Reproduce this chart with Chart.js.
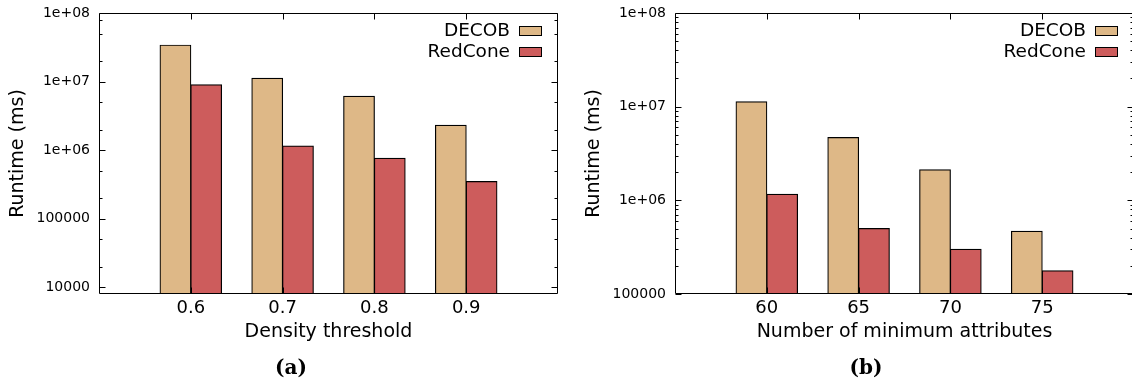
<!DOCTYPE html>
<html><head><meta charset="utf-8">
<script src="https://cdn.jsdelivr.net/npm/chart.js@4.4.1/dist/chart.umd.min.js"></script>
<style>
html,body{margin:0;padding:0;background:#fff;width:1132px;height:381px;overflow:hidden;position:relative;}
.panel{position:absolute;top:0;height:381px;}
#pa{left:0;width:566px;}
#pb{left:566px;width:570px;}
.cap{position:absolute;top:356px;font-family:"DejaVu Serif",serif;font-weight:bold;font-size:20px;line-height:22px;transform:translateX(-50%);color:#000;white-space:nowrap;}
</style></head><body>
<div class="panel" id="pa"><canvas id="ca" width="566" height="381"></canvas></div>
<div class="panel" id="pb"><canvas id="cb" width="570" height="381"></canvas></div>
<div class="cap" style="left:291px">(a)</div>
<div class="cap" style="left:866px">(b)</div>
<script>
// ---- data ----
const seriesNames = ['DECOB', 'RedCone'];
const seriesColors = ['#deb887', '#cd5c5c'];

const categoriesA = ['0.6', '0.7', '0.8', '0.9'];
const decobA = [3.4e7, 1.12e7, 6.1e6, 2.3e6];
const redconeA = [9.0e6, 1.15e6, 7.6e5, 3.5e5];

const categoriesB = ['60', '65', '70', '75'];
const decobB = [1.13e7, 4.68e6, 2.12e6, 4.68e5];
const redconeB = [1.16e6, 5.0e5, 3.0e5, 1.77e5];

const yTickValuesA = [1e4, 1e5, 1e6, 1e7, 1e8];
const yTickLabelsA = ['10000', '100000', '1e+06', '1e+07', '1e+08'];
const yTickValuesB = [1e5, 1e6, 1e7, 1e8];
const yTickLabelsB = ['100000', '1e+06', '1e+07', '1e+08'];

const yMinorA = [2e4, 5e4, 2e5, 5e5, 2e6, 5e6, 2e7, 5e7, 8e7];
const minorMultB = [2, 3, 4, 5, 6, 7, 8, 9];
const yMinorB = [];
[1e5, 1e6, 1e7].forEach(d => minorMultB.forEach(m => yMinorB.push(m * d)));

const FONT = '"DejaVu Sans", "Noto Sans", sans-serif';
Chart.defaults.font.family = FONT;
Chart.defaults.color = '#000';

const framePlugin = {
  id: 'frame',
  afterDatasetsDraw(chart, args, opts) {
    const ctx = chart.ctx;
    const {left, right, top, bottom} = chart.chartArea;
    const xs = chart.scales.x, ys = chart.scales.y;
    ctx.save();
    ctx.strokeStyle = '#000';
    ctx.lineWidth = 1;
    ctx.beginPath();
    const L = Math.round(left) + 0.5, R = Math.round(right) - 0.5;
    const T = Math.round(top) + 0.5, B = Math.round(bottom) - 0.5;
    ctx.rect(L, T, R - L, B - T);
    opts.major.forEach(v => {
      const py = Math.round(ys.getPixelForValue(v)) + 0.5;
      ctx.moveTo(L, py); ctx.lineTo(L + 6, py);
      ctx.moveTo(R, py); ctx.lineTo(R - 6, py);
    });
    opts.minor.forEach(v => {
      const py = Math.round(ys.getPixelForValue(v)) + 0.5;
      ctx.moveTo(L, py); ctx.lineTo(L + 3, py);
      ctx.moveTo(R, py); ctx.lineTo(R - 3, py);
    });
    for (let i = 1; i <= opts.nCats; i++) {
      const px = Math.round(xs.getPixelForValue(i)) + 0.5;
      ctx.moveTo(px, T); ctx.lineTo(px, T + 6);
      ctx.moveTo(px, B); ctx.lineTo(px, B - 6);
    }
    ctx.stroke();
    // legend inside top-right
    ctx.font = '18.5px ' + FONT;
    ctx.textAlign = 'right';
    ctx.textBaseline = 'middle';
    chart.data.datasets.forEach((ds, i) => {
      const cy = Math.round(top + 18 + i * 21);
      const bx = Math.round(right - 16 - 23);
      ctx.fillStyle = ds.backgroundColor;
      ctx.fillRect(bx, cy - 5, 23, 10);
      ctx.strokeStyle = '#000';
      ctx.strokeRect(bx + 0.5, cy - 5 + 0.5, 22, 9);
      ctx.fillStyle = '#000';
      ctx.fillText(ds.label, bx - 9, cy);
    });
    ctx.restore();
  }
};

function makeChart(id, cats, d1, d2, yMin, yVals, yLabels, yMinor, xTitle, yAxisWidth, padRight, yTitlePad) {
  return new Chart(document.getElementById(id), {
    type: 'bar',
    data: {
      labels: ['', ...cats, ''],
      datasets: [
        {label: seriesNames[0], data: [null, ...d1, null], backgroundColor: seriesColors[0],
         borderColor: '#000', borderWidth: 1.2, inflateAmount: 0.5, categoryPercentage: 0.67, barPercentage: 1},
        {label: seriesNames[1], data: [null, ...d2, null], backgroundColor: seriesColors[1],
         borderColor: '#000', borderWidth: 1.2, inflateAmount: 0.5, categoryPercentage: 0.67, barPercentage: 1}
      ]
    },
    options: {
      responsive: false, animation: false, devicePixelRatio: 1,
      layout: {padding: {top: 13, right: padRight, left: 0, bottom: 0}},
      plugins: {
        legend: {display: false}, tooltip: {enabled: false},
        frame: {major: yVals, minor: yMinor, nCats: cats.length}
      },
      scales: {
        x: {
          type: 'category', offset: false,
          grid: {display: false, drawTicks: false}, border: {display: false},
          ticks: {autoSkip: false, maxRotation: 0, padding: 4, color: '#000', font: {size: 18, lineHeight: 1.2}},
          title: {display: true, text: xTitle, color: '#000', font: {size: 19, lineHeight: 1.2}, padding: {top: 0, bottom: 38}},
          afterFit(s) { s.height = 87; s.paddingLeft = 0; s.paddingRight = 0; }
        },
        y: {
          type: 'logarithmic', min: yMin, max: 1e8,
          grid: {display: false, drawTicks: false}, border: {display: false},
          afterBuildTicks(s) { s.ticks = yVals.map(v => ({value: v, major: false})); },
          ticks: {padding: 9, color: '#000', font: {size: 14, lineHeight: 1.2},
                  callback: (v, i) => yLabels[i]},
          title: {display: true, text: 'Runtime (ms)', color: '#000', font: {size: 19, lineHeight: 1.2}, padding: {top: yTitlePad, bottom: 0}},
          afterFit(s) { s.width = yAxisWidth; s.paddingTop = 0; s.paddingBottom = 0; }
        }
      }
    },
    plugins: [framePlugin]
  });
}

makeChart('ca', categoriesA, decobA, redconeA, 8000, yTickValuesA, yTickLabelsA, yMinorA,
  'Density threshold', 99, 8, 7);
makeChart('cb', categoriesB, decobB, redconeB, 1e5, yTickValuesB, yTickLabelsB, yMinorB,
  'Number of minimum attributes', 109, 2, 17);
</script>
</body></html>
